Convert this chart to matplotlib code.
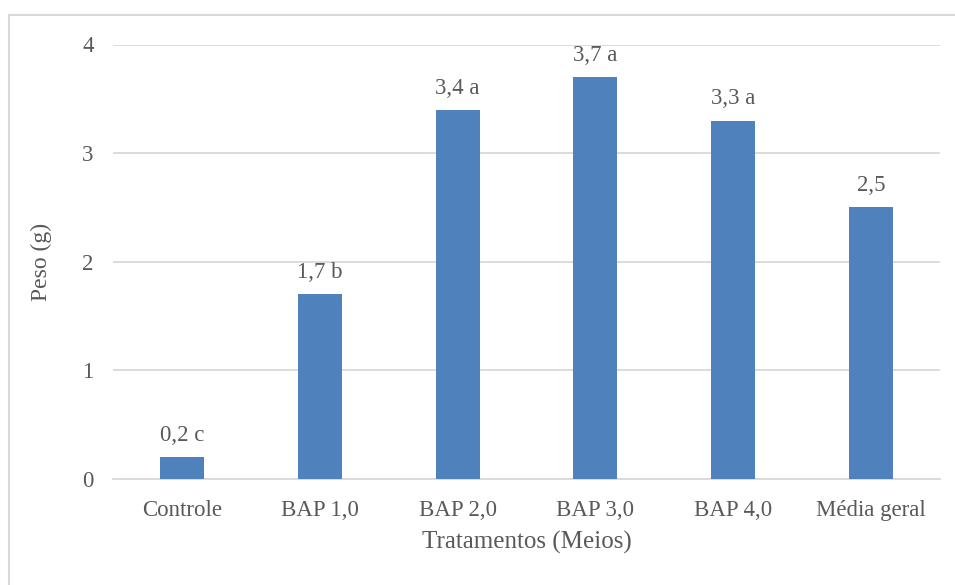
import numpy as np
import matplotlib.pyplot as plt
from matplotlib.patches import Rectangle

tratamentos = ["Controle", "BAP 1,0", "BAP 2,0", "BAP 3,0", "BAP 4,0", "Média geral"]
peso = [0.2, 1.7, 3.4, 3.7, 3.3, 2.5]
letras = ["c", "b", "a", "a", "a", ""]

plt.rcParams["font.family"] = ["Liberation Serif", "DejaVu Serif"]
cinza = "#595959"
grade = "#d9d9d9"

fig = plt.figure(figsize=(9.55, 5.85), dpi=100)
# moldura do gráfico
fig.patches.append(Rectangle((9/955, -0.1), 1.1, 1 - 15/585 + 0.1, transform=fig.transFigure,
                             fill=False, edgecolor=grade, linewidth=1.5))
ax = fig.add_axes([113/955, 1 - 479/585, (940 - 113)/955, (479 - 44.5)/585])

x = np.arange(len(tratamentos))
ax.bar(x, peso, width=0.32, color="#4f81bd", zorder=3)

for xi, v, l in zip(x, peso, letras):
    txt = f"{v:.1f}".replace(".", ",") + (f" {l}" if l else "")
    ax.annotate(txt, (xi, v), xytext=(0, 8), textcoords="offset points",
                ha="center", va="bottom", fontsize=16.5, color=cinza)

ax.set_xlim(-0.5, len(tratamentos) - 0.5)
ax.set_ylim(0, 4)
ax.set_yticks([0, 1, 2, 3, 4])
ax.set_xticks(x)
ax.set_xticklabels(tratamentos)
ax.grid(axis="y", color=grade, linewidth=1.3, zorder=0)
for s in ["top", "right", "left"]:
    ax.spines[s].set_visible(False)
ax.spines["bottom"].set_color(grade)
ax.spines["bottom"].set_linewidth(1.3)
ax.tick_params(axis="both", length=0, labelsize=16.5, colors=cinza)
ax.tick_params(axis="y", pad=14)
ax.tick_params(axis="x", pad=15)

ax.set_xlabel("Tratamentos (Meios)", fontsize=18, color=cinza, labelpad=7)
ax.set_ylabel("Peso (g)", fontsize=17, color=cinza, labelpad=22)

fig.savefig("out.png", dpi=100, facecolor="white")
